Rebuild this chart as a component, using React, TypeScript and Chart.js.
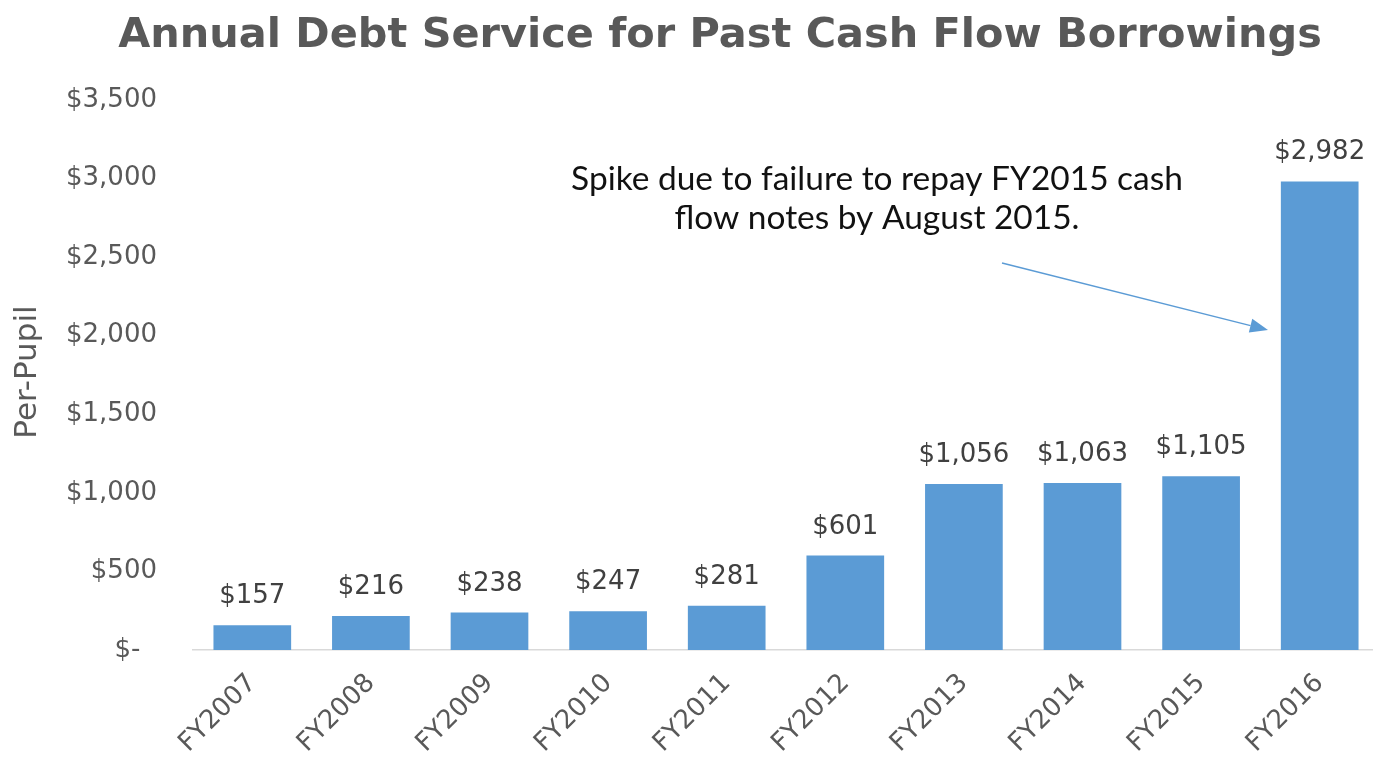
import React, { useEffect, useRef } from "react";
import { Chart, registerables } from "chart.js";

Chart.register(...registerables);

const categories = ["FY2007", "FY2008", "FY2009", "FY2010", "FY2011", "FY2012", "FY2013", "FY2014", "FY2015", "FY2016"];
const perPupil = [157, 216, 238, 247, 281, 601, 1056, 1063, 1105, 2982];
const yTicks = [0, 500, 1000, 1500, 2000, 2500, 3000, 3500];
const titleText = "Annual Debt Service for Past Cash Flow Borrowings";
const yAxisTitle = "Per-Pupil";
const noteLines = ["Spike due to failure to repay FY2015 cash", "flow notes by August 2015."];

const GREY = "#595959";
const BLUE = "#5b9bd5";

const money = (v: number) => (v === 0 ? "$-\u2007" : "$" + v.toLocaleString("en-US"));

function fitFont(ctx: CanvasRenderingContext2D, text: string, weight: string, family: string, target: number) {
  ctx.font = `${weight} 40px ${family}`;
  const w = ctx.measureText(text).width;
  return (40 * target) / w;
}

const decorPlugin = {
  id: "decor",
  afterDatasetsDraw(chart: any) {
    const ctx: CanvasRenderingContext2D = chart.ctx;
    ctx.save();
    // title
    const tSize = fitFont(ctx, titleText, "bold", "'DejaVu Sans'", 1204);
    ctx.font = `bold ${tSize}px 'DejaVu Sans'`;
    ctx.fillStyle = GREY;
    ctx.textAlign = "center";
    ctx.textBaseline = "alphabetic";
    ctx.fillText(titleText, 720, 47);

    // y axis title
    ctx.save();
    ctx.translate(28, 372);
    ctx.rotate(-Math.PI / 2);
    ctx.font = "31px 'DejaVu Sans'";
    ctx.textBaseline = "middle";
    ctx.textAlign = "center";
    ctx.fillText(yAxisTitle, 0, 0);
    ctx.restore();

    // data labels
    const meta = chart.getDatasetMeta(0);
    ctx.font = "26px 'DejaVu Sans'";
    ctx.fillStyle = "#404040";
    ctx.textAlign = "center";
    ctx.textBaseline = "alphabetic";
    meta.data.forEach((bar: any, i: number) => {
      ctx.fillText(money(perPupil[i]), bar.x, bar.y - 22);
    });

    // annotation
    const nSize = fitFont(ctx, noteLines[0], "normal", "Lato", 612);
    ctx.font = `${nSize}px Lato`;
    ctx.fillStyle = "#111111";
    ctx.textAlign = "center";
    ctx.fillText(noteLines[0], 877, 190);
    ctx.fillText(noteLines[1], 877, 229);

    // arrow
    const x1 = 1002, y1 = 263, x2 = 1268, y2 = 330;
    const ang = Math.atan2(y2 - y1, x2 - x1);
    const hl = 18, hw = 7;
    const bx = x2 - hl * Math.cos(ang), by = y2 - hl * Math.sin(ang);
    ctx.strokeStyle = BLUE;
    ctx.lineWidth = 1.5;
    ctx.beginPath();
    ctx.moveTo(x1, y1);
    ctx.lineTo(bx, by);
    ctx.stroke();
    ctx.fillStyle = BLUE;
    ctx.beginPath();
    ctx.moveTo(x2, y2);
    ctx.lineTo(bx + hw * Math.sin(ang), by - hw * Math.cos(ang));
    ctx.lineTo(bx - hw * Math.sin(ang), by + hw * Math.cos(ang));
    ctx.closePath();
    ctx.fill();
    ctx.restore();
  },
};

export default function App() {
  const ref = useRef<HTMLCanvasElement | null>(null);
  useEffect(() => {
    if (!ref.current) return;
    const chart = new Chart(ref.current, {
      type: "bar",
      data: {
        labels: categories,
        datasets: [
          {
            data: perPupil,
            backgroundColor: BLUE,
            borderWidth: 0,
            categoryPercentage: 1,
            barPercentage: 0.655,
          },
        ],
      },
      options: {
        responsive: false,
        animation: false,
        layout: { padding: { top: 100, left: 0, right: 0, bottom: 0 } },
        plugins: { legend: { display: false }, tooltip: { enabled: false }, title: { display: false } },
        scales: {
          x: {
            grid: { display: false, drawTicks: false },
            border: { display: true, color: "#d9d9d9", width: 1.5 },
            ticks: {
              minRotation: 45,
              maxRotation: 45,
              color: GREY,
              padding: 18,
              font: { family: "'DejaVu Sans'", size: 26 },
            },
            afterFit: (s: any) => {
              s.height = 112;
            },
          },
          y: {
            min: 0,
            max: 3500,
            grid: { display: false, drawTicks: false },
            border: { display: false },
            afterBuildTicks: (s: any) => {
              s.ticks = yTicks.map((v) => ({ value: v }));
            },
            ticks: {
              color: GREY,
              padding: 36,
              font: { family: "'DejaVu Sans'", size: 26 },
              callback: (v: any) => money(Number(v)),
            },
            afterFit: (s: any) => {
              s.width = 193;
            },
          },
        },
      },
      plugins: [decorPlugin],
    });
    return () => chart.destroy();
  }, []);
  return (
    <div style={{ position: "absolute", left: 0, top: 0, width: 1373, height: 762, overflow: "hidden", background: "#fff" }}>
      <canvas ref={ref} width={1379} height={762} style={{ display: "block" }} />
    </div>
  );
}
